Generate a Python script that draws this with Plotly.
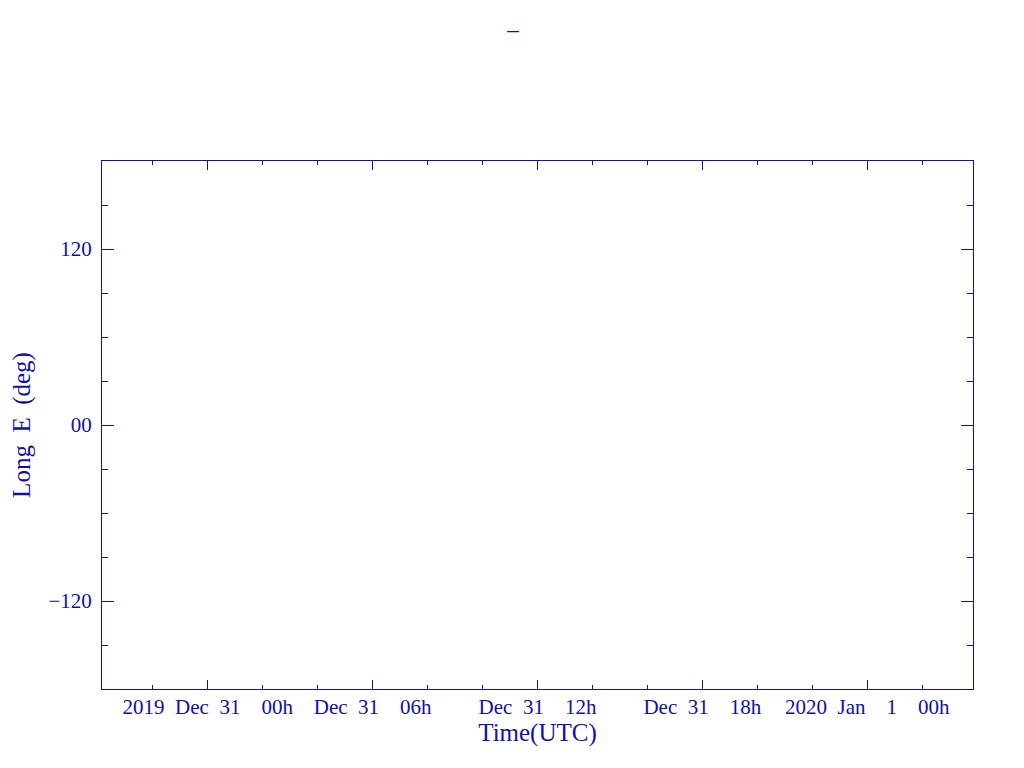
import plotly.graph_objects as go

# ---- data ----
x_range = ["2019-12-30 20:09", "2020-01-01 03:51"]
y_range = [-180, 180]
x_tick_vals = ["2019-12-31 00:00", "2019-12-31 06:00", "2019-12-31 12:00",
               "2019-12-31 18:00", "2020-01-01 00:00"]
x_tick_text = ["2019 Dec 31  00h", "Dec 31  06h", "Dec 31  12h",
               "Dec 31  18h", "2020 Jan  1  00h"]
x_minor_vals = ["2019-12-30 22:00", "2019-12-31 02:00", "2019-12-31 04:00",
                "2019-12-31 08:00", "2019-12-31 10:00", "2019-12-31 14:00",
                "2019-12-31 16:00", "2019-12-31 20:00", "2019-12-31 22:00",
                "2020-01-01 02:00"]
y_tick_vals = [-120, 0, 120]
y_tick_text = ["\u2212120", "00", "120"]
y_minor_vals = [-150, -90, -60, -30, 30, 60, 90, 150]
series_x = []
series_y = []

BLUE = "#1010a8"
FONT = "Liberation Serif"
W, H = 1016, 760


def pad(s):
    # widen spaces like the original plotting font
    return s.replace(" ", "\u00a0\u00a0")


fig = go.Figure()
fig.add_trace(go.Scatter(x=series_x, y=series_y, mode="lines",
                         line=dict(color=BLUE), showlegend=False))

fig.update_layout(
    width=W, height=H,
    margin=dict(l=94, r=51, t=153, b=79, autoexpand=False),
    paper_bgcolor="white", plot_bgcolor="white",
    font=dict(family=FONT, color=BLUE, size=21),
    title=dict(text="_", x=505 / W, xanchor="center", y=1,
               yanchor="top", pad=dict(t=5),
               font=dict(family=FONT, size=23, color=BLUE)),
    showlegend=False,
)

fig.update_xaxes(
    type="date", range=x_range, showgrid=False, zeroline=False,
    showline=True, linecolor=BLUE, linewidth=1, mirror="ticks",
    ticks="inside", ticklen=9, tickwidth=1, tickcolor=BLUE,
    tickmode="array", tickvals=x_tick_vals,
    ticktext=[pad(t) for t in x_tick_text],
    tickfont=dict(family=FONT, size=21, color=BLUE),
    ticklabelstandoff=-1, automargin=False,
    minor=dict(tickmode="array", tickvals=x_minor_vals, ticks="inside",
               ticklen=4, tickwidth=1, tickcolor=BLUE, showgrid=False),
    title=dict(text="Time(UTC)", font=dict(family=FONT, size=25, color=BLUE),
               standoff=5),
)

fig.update_yaxes(
    range=y_range, showgrid=False, zeroline=False,
    showline=True, linecolor=BLUE, linewidth=1, mirror="ticks",
    ticks="inside", ticklen=12, tickwidth=1, tickcolor=BLUE,
    tickmode="array", tickvals=y_tick_vals, ticktext=y_tick_text,
    tickfont=dict(family=FONT, size=21, color=BLUE),
    ticklabelstandoff=5, automargin=False,
    minor=dict(tickmode="array", tickvals=y_minor_vals, ticks="inside",
               ticklen=6, tickwidth=1, tickcolor=BLUE, showgrid=False),
    title=dict(text=pad("Long E (deg)"), font=dict(family=FONT, size=25, color=BLUE),
               standoff=19),
)

fig.write_html("out.html")
